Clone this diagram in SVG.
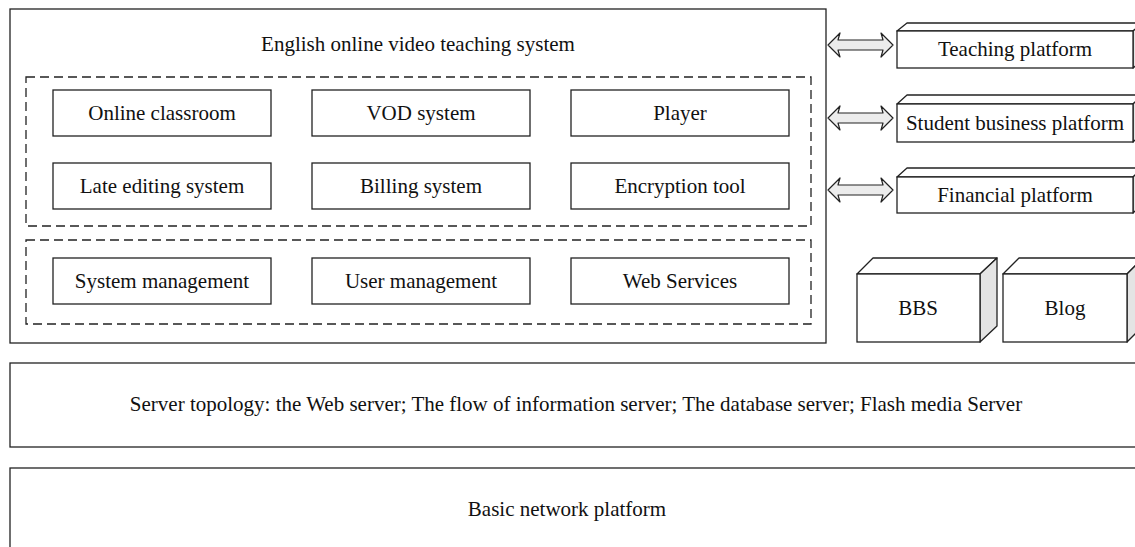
<svg xmlns="http://www.w3.org/2000/svg" width="1135" height="547" viewBox="0 0 1135 547">
<style>
  text { font-family: "Liberation Serif", "Times New Roman", serif; font-size: 21px; fill: #111; text-anchor: middle; }
  .box { fill: #fff; stroke: #222; stroke-width: 1.3; }
  .dash { fill: none; stroke: #222; stroke-width: 1.3; stroke-dasharray: 9 5; }
  .side { fill: #e4e4e4; stroke: #222; stroke-width: 1.3; stroke-linejoin: round; }
  .top { fill: #fff; stroke: #222; stroke-width: 1.3; stroke-linejoin: round; }
  .arr { fill: #ececec; stroke: #222; stroke-width: 1.2; stroke-linejoin: round; }
</style>
<rect width="1135" height="547" fill="#fff"/>

<g id="main-system">
  <rect class="box" x="10" y="9" width="816" height="334"/>
  <text x="418" y="51">English online video teaching system</text>
  <rect class="dash" x="26" y="77" width="785" height="149"/>
  <rect class="dash" x="26" y="240" width="785" height="84"/>
</g>

<g id="online-classroom"><rect class="box" x="53" y="90" width="218" height="46"/><text x="162" y="120">Online classroom</text></g>
<g id="vod-system"><rect class="box" x="312" y="90" width="218" height="46"/><text x="421" y="120">VOD system</text></g>
<g id="player"><rect class="box" x="571" y="90" width="218" height="46"/><text x="680" y="120">Player</text></g>
<g id="late-editing"><rect class="box" x="53" y="163" width="218" height="46"/><text x="162" y="193">Late editing system</text></g>
<g id="billing"><rect class="box" x="312" y="163" width="218" height="46"/><text x="421" y="193">Billing system</text></g>
<g id="encryption"><rect class="box" x="571" y="163" width="218" height="46"/><text x="680" y="193">Encryption tool</text></g>
<g id="system-management"><rect class="box" x="53" y="258" width="218" height="46"/><text x="162" y="288">System management</text></g>
<g id="user-management"><rect class="box" x="312" y="258" width="218" height="46"/><text x="421" y="288">User management</text></g>
<g id="web-services"><rect class="box" x="571" y="258" width="218" height="46"/><text x="680" y="288">Web Services</text></g>

<g id="teaching-platform">
  <polygon class="top" points="897,31 907,23 1143,23 1133,31"/>
  <polygon class="side" points="1133,31 1143,23 1143,60 1133,68"/>
  <rect class="box" x="897" y="31" width="236" height="37"/>
  <text x="1015" y="56">Teaching platform</text>
</g>
<g id="student-business-platform">
  <polygon class="top" points="897,104 907,95 1143,95 1133,104"/>
  <polygon class="side" points="1133,104 1143,95 1143,133 1133,142"/>
  <rect class="box" x="897" y="104" width="236" height="38"/>
  <text x="1015" y="130">Student business platform</text>
</g>
<g id="financial-platform">
  <polygon class="top" points="897,177 907,168 1143,168 1133,177"/>
  <polygon class="side" points="1133,177 1143,168 1143,204 1133,213"/>
  <rect class="box" x="897" y="177" width="236" height="36"/>
  <text x="1015" y="202">Financial platform</text>
</g>

<g id="bbs">
  <polygon class="top" points="857,274 873,258 997,258 980,274"/>
  <polygon class="side" points="980,274 997,258 997,326 980,342"/>
  <rect class="box" x="857" y="274" width="123" height="68"/>
  <text x="918" y="315">BBS</text>
</g>
<g id="blog">
  <polygon class="top" points="1003,274 1019,258 1143,258 1127,274"/>
  <polygon class="side" points="1127,274 1143,258 1143,326 1127,342"/>
  <rect class="box" x="1003" y="274" width="124" height="68"/>
  <text x="1065" y="315">Blog</text>
</g>

<g id="server-topology">
  <rect class="box" x="10" y="363" width="1140" height="84"/>
  <text x="576" y="411">Server topology: the Web server; The flow of information server; The database server; Flash media Server</text>
</g>
<g id="basic-network">
  <rect class="box" x="10" y="468" width="1140" height="100"/>
  <text x="567" y="516">Basic network platform</text>
</g>

<g id="connectors">
  <polygon class="arr" points="828,45 840,33 838,40 883,40 881,33 893,45 881,57 883,50 838,50 840,57"/>
  <polygon class="arr" points="828,118 840,106 838,113 883,113 881,106 893,118 881,130 883,123 838,123 840,130"/>
  <polygon class="arr" points="828,190 840,178 838,185 883,185 881,178 893,190 881,202 883,195 838,195 840,202"/>
</g>
</svg>
